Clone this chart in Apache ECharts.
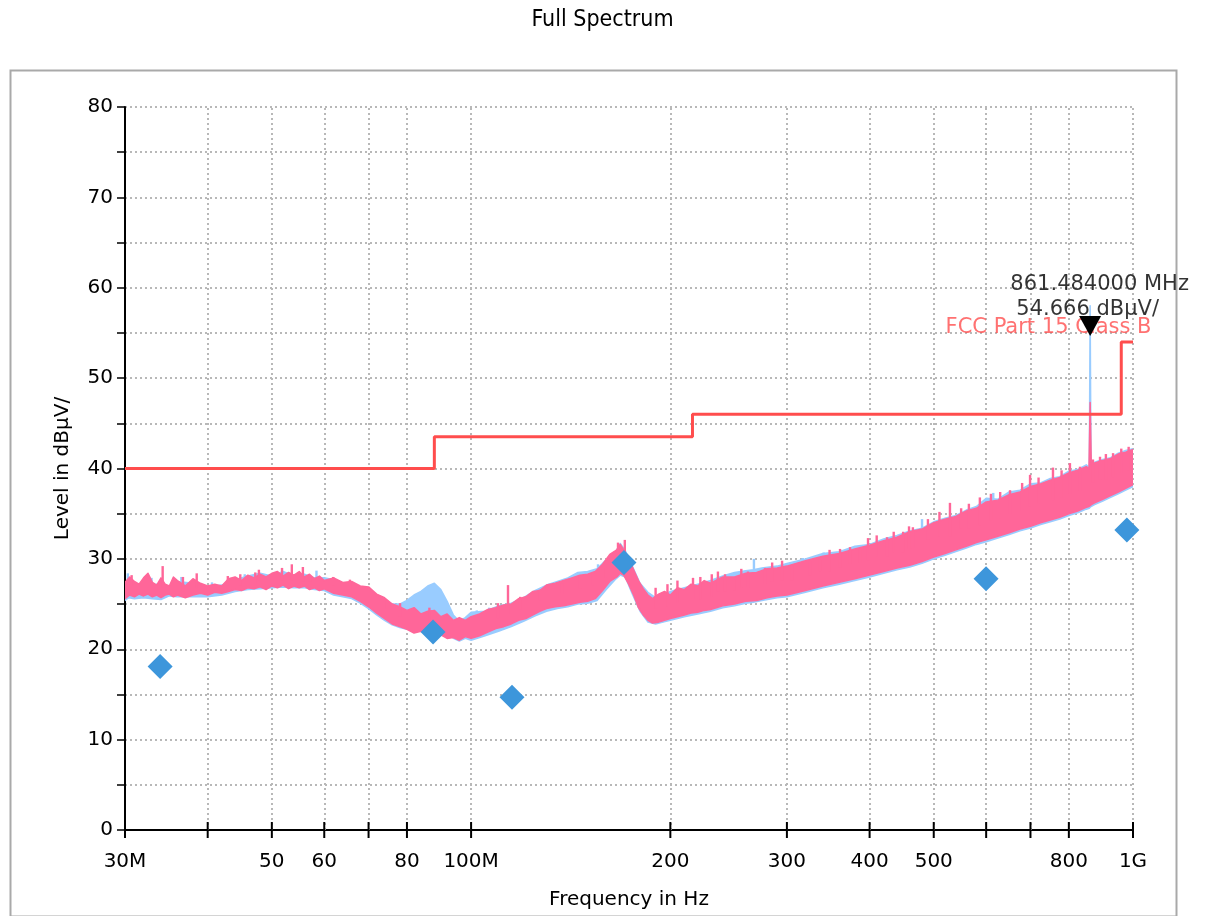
<!DOCTYPE html>
<html><head><meta charset="utf-8">
<script src="https://cdn.jsdelivr.net/npm/echarts@6/dist/echarts.min.js"></script>
<style>html,body{margin:0;padding:0;background:#fff}#c{width:1205px;height:916px}</style>
</head><body><div id="c"></div>
<script>
// ---- axis ticks (MHz) ----
const X_TICKS = [30,40,50,60,70,80,100,200,300,400,500,600,700,800,1000];
const X_TICK_LABELS = ['30M','','50','60','','80','100M','200','300','400','500','','','800','1G'];

// ---- limit line: FCC Part 15 Class B ----
const LIMIT_FREQ  = [30, 88, 88, 216, 216, 960, 960, 1000];
const LIMIT_LEVEL = [40, 40, 43.5, 43.5, 46, 46, 54, 54];

// ---- quasi-peak final measurements ----
const QP_FREQ  = [33.9, 87.6, 115.3, 170.2, 599.8, 979];
const QP_LEVEL = [18.1, 21.9, 14.7, 29.6, 27.8, 33.2];

// ---- peak marker ----
const PEAK_FREQ = 861.484;
const PEAK_LEVEL = 54.666;

// ---- pink trace envelope (dBuV) ----
const PINK_FREQ = [30,30.5,31,31.5,32,32.5,33,33.5,34,34.5,35,35.5,36,37,38,39,40,41,42,43,44,45,46,47,48,49,50,51,52,53,54,55,56,57,58,59,60,62,64,66,68,70,72,74,76,78,80,82,84,86,88,90,92,94,96,98,100,103,106,109,112,115,118,121,124,127,130,134,138,142,146,150,154,158,162,166,168,170,173,176,179,182,185,188,192,196,200,205,210,215,220,225,230,240,250,260,270,280,290,300,320,340,360,380,400,420,440,460,480,500,520,540,560,580,600,625,650,675,700,725,750,775,800,825,850,858,861.5,865,875,900,925,950,975,1000];
const PINK_LO = [25.6,26.0,25.8,26.1,25.9,26.1,25.8,26.0,25.7,26.0,26.1,25.8,26.0,25.7,26.0,26.2,26.0,26.3,26.2,26.4,26.6,26.5,26.8,26.7,26.9,26.6,27.0,26.8,27.1,26.7,27.0,26.8,27.0,26.6,26.8,26.5,26.7,26.2,26.0,25.8,25.3,24.7,24.0,23.4,22.8,22.5,22.2,21.8,22.0,21.6,21.4,21.6,21.2,21.3,21.0,21.4,21.2,21.5,21.9,22.3,22.5,22.8,23.2,23.4,23.8,24.2,24.5,24.7,24.8,25.0,25.2,25.3,25.6,26.5,27.5,28.0,28.4,28.2,27.2,26.0,24.6,23.8,23.2,22.9,23.0,23.2,23.4,23.6,23.8,24.0,24.1,24.3,24.4,24.8,25.0,25.3,25.4,25.7,25.9,26.0,26.5,27.0,27.4,27.8,28.2,28.6,29.0,29.3,29.7,30.2,30.6,31.0,31.4,31.8,32.1,32.5,32.9,33.3,33.6,34.0,34.3,34.6,35.0,35.3,35.7,35.8,35.9,36.0,36.2,36.6,37.0,37.4,37.8,38.2];
const PINK_HI = [27.4,28.0,27.5,27.2,27.9,28.4,27.4,27.1,27.9,27.2,27.0,28.0,27.6,27.0,27.8,27.3,27.0,27.2,27.0,27.8,28.0,27.6,28.2,27.9,28.3,28.0,28.4,28.6,28.1,28.5,28.2,28.6,28.0,28.3,27.8,28.1,27.6,27.9,27.4,27.5,27.0,26.9,26.1,25.7,25.0,24.7,24.3,24.6,23.9,24.2,24.3,23.6,23.9,23.2,23.5,23.2,23.6,23.9,24.4,24.6,24.9,25.0,25.6,25.8,26.4,26.5,27.1,27.3,27.6,27.9,28.2,28.3,28.6,29.4,30.5,31.0,31.6,31.0,30.0,28.8,27.6,26.7,26.0,25.6,26.1,26.4,26.0,26.8,26.6,27.2,27.0,27.6,27.3,28.0,28.0,28.4,28.5,28.9,29.0,29.2,29.8,30.3,30.6,31.1,31.5,32.0,32.4,33.0,33.3,34.0,34.4,34.7,35.3,35.6,36.3,36.5,37.1,37.4,38.0,38.3,38.7,39.0,39.5,39.8,40.2,40.0,47.3,40.3,40.6,40.9,41.1,41.6,41.8,42.1];
// isolated spikes of the pink trace (MHz, dBuV)
const PINK_SPIKE_FREQ  = [30.7,34.2,36.7,38.5,42.9,44.8,47.2,47.8,51.8,53.6,55.7,57.1,61.9,65.6,74.6,78.1,86.5,109.8,113.7,118.6,127,137.2,146,152.9,159.7,166.7,170.7,190,198,205,216.4,222,231,236,241.9,250,256,262,278,285,295,305.4,325,336.6,348,360.9,373.7,387,397.8,410,425,435,449.5,458.8,465,490,510,529,550,565,587,610,630,652,680,699,720,757,780,803,831.6,870,891.6,910,933,960,985];
const PINK_SPIKE_LEVEL = [28.2,29.2,28.0,28.4,28.1,28.3,28.5,28.8,29.0,29.4,29.1,28.0,28.0,27.7,25.4,25.1,24.6,25.1,27.1,25.8,26.6,27.3,28.2,28.5,29.1,31.8,32.1,26.8,27.2,27.6,27.9,28.0,28.3,28.6,28.3,27.7,28.9,28.6,29.0,29.6,29.8,29.3,29.7,29.9,31.0,31.1,31.3,31.1,32.3,32.6,32.4,33.0,33.0,33.6,33.5,34.4,35.2,36.2,35.6,36.1,36.8,37.2,37.4,37.6,38.4,39.3,39.0,40.1,39.8,40.6,40.2,41.0,41.3,41.6,41.7,42.2,42.4];

// ---- light-blue trace envelope (dBuV) ----
const BLUE_FREQ = [30,30.4,31,32,33,34,35,36,38,40,42,44,46,48,50,52,54,56,58,60,62,64,66,68,70,72,74,76,78,80,82,84,86,88,90,92,94,96,98,100,105,110,115,120,125,130,135,140,145,150,155,160,165,168,171,175,180,185,190,195,200,210,220,230,240,250,260,267,275,290,300,320,340,360,380,400,420,440,460,480,500,520,540,560,580,600,625,650,675,700,725,750,775,800,825,850,859,861.484,864,875,900,925,950,975,1000];
const BLUE_LO = [25.4,25.7,25.6,25.7,25.6,25.5,25.9,25.8,25.8,25.8,26.0,26.4,26.6,26.7,26.8,26.9,26.8,26.8,26.6,26.5,26.0,25.8,25.6,25.1,24.5,23.8,23.2,22.7,22.4,22.2,22.8,23.2,23.4,23.6,23.2,22.4,21.2,20.9,21.2,21.0,21.5,22.0,22.5,23.1,23.7,24.2,24.5,24.7,25.0,25.1,25.4,26.6,27.7,28.2,28.0,26.2,24.2,23.0,22.8,23.0,23.2,23.6,23.9,24.2,24.6,24.8,25.1,25.2,25.4,25.7,25.8,26.3,26.8,27.2,27.6,28.0,28.4,28.8,29.1,29.5,30.0,30.4,30.8,31.2,31.6,31.9,32.3,32.7,33.1,33.4,33.8,34.1,34.4,34.8,35.1,35.5,35.6,35.7,35.8,36.0,36.4,36.8,37.2,37.6,38.0];
const BLUE_HI = [26.8,27.2,27.0,27.3,27.0,27.4,26.9,27.5,27.3,26.9,27.1,27.7,28.1,28.4,28.1,28.6,28.1,28.3,27.9,27.9,27.7,27.3,27.3,26.9,26.6,25.9,25.5,25.0,25.0,25.4,26.0,26.4,27.0,27.3,26.6,25.3,23.8,23.1,23.5,24.1,24.2,24.8,25.1,25.7,26.5,27.1,27.5,27.9,28.5,28.6,28.9,29.9,30.7,31.7,30.9,29.3,27.3,26.3,25.7,25.9,26.4,26.8,27.2,27.6,28.1,28.5,28.7,28.8,29.0,29.2,29.5,30.0,30.6,30.8,31.4,31.6,32.2,32.6,33.1,33.4,34.1,34.5,34.8,35.4,35.8,36.7,36.6,37.4,37.6,38.3,38.4,38.9,39.1,39.7,39.9,40.4,40.1,58.0,40.3,40.7,41.0,41.2,41.7,42.0,42.2];
// isolated spikes of the light-blue trace (MHz, dBuV)
const BLUE_SPIKE_FREQ  = [30.3,32.9,36.5,40.6,45.5,58.4,102,106.5,155.5,267.5,290,317,341,480,615];
const BLUE_SPIKE_LEVEL = [28.4,27.9,28.0,27.4,28.3,28.7,24.3,24.6,29.4,30.0,29.1,30.1,30.7,34.4,37.3];

const FONT = "'DejaVu Sans', 'Liberation Sans', sans-serif";
const FS = 20;
const chart = echarts.init(document.getElementById('c'), null, {renderer: 'canvas'});

function band(name, freq, lo, hi, color, z) {
  return {
    type: 'custom', name: name, z: z, silent: true, clip: true,
    data: freq.map((f, i) => [f, lo[i], hi[i]]),
    encode: {x: 0, y: [1, 2]},
    renderItem: function (params, api) {
      if (params.dataIndex !== 0) return {type: 'group', children: []};
      const pts = [];
      for (let i = 0; i < freq.length; i++) pts.push(api.coord([freq[i], hi[i]]));
      for (let i = freq.length - 1; i >= 0; i--) pts.push(api.coord([freq[i], lo[i]]));
      return {type: 'polygon', shape: {points: pts},
        style: {fill: color, stroke: color, lineWidth: 1.5, lineJoin: 'round'}};
    }
  };
}
// a spike is drawn from its top down into the middle of the nearest band sample
function spikes(name, freq, level, bandF, bandLo, bandHi, color, z) {
  return {
    type: 'custom', name: name, z: z, silent: true, clip: true,
    data: freq.map((f, i) => [f, level[i]]),
    encode: {x: 0, y: 1},
    renderItem: function (params, api) {
      const f = api.value(0), v = api.value(1);
      let j = 0, best = Infinity;
      for (let k = 0; k < bandF.length; k++) {
        const d = Math.abs(Math.log(bandF[k]) - Math.log(f));
        if (d < best) { best = d; j = k; }
      }
      const base = Math.min(v - 0.4, (bandLo[j] + bandHi[j]) / 2);
      const top = api.coord([f, v]);
      const bot = api.coord([f, base]);
      return {type: 'rect', shape: {x: top[0] - 1.2, y: top[1], width: 2.4, height: bot[1] - top[1]},
        style: {fill: color}};
    }
  };
}

const option = {
  animation: false,
  backgroundColor: '#fff',
  title: {
    text: 'Full Spectrum', left: 'center', top: 4,
    textStyle: {fontFamily: "'DejaVu Sans Condensed', 'Liberation Sans Narrow', sans-serif", fontSize: 23, fontWeight: 'normal', color: '#000'}
  },
  graphic: [{
    type: 'rect', left: 8, top: 68, z: -10, silent: true,
    shape: {width: 1166, height: 846},
    style: {fill: 'none', stroke: '#a9a9a9', lineWidth: 2}
  }],
  grid: {left: 125, right: 72, top: 107, bottom: 86, containLabel: false, outerBoundsMode: 'none'},
  xAxis: {
    type: 'log', logBase: 10, min: 30, max: 1000,
    name: 'Frequency in Hz', nameLocation: 'middle', nameGap: 60,
    nameTextStyle: {fontFamily: FONT, fontSize: FS, color: '#000'},
    axisLine: {show: true, onZero: false, lineStyle: {color: '#000', width: 2}},
    axisTick: {show: false}, axisLabel: {show: false},
    splitLine: {show: false}, minorTick: {show: false}, minorSplitLine: {show: false}
  },
  yAxis: {
    type: 'value', min: 0, max: 80, interval: 5,
    name: 'Level in dBµV/', nameLocation: 'middle', nameGap: 52, nameRotate: 90,
    nameTextStyle: {fontFamily: FONT, fontSize: FS, color: '#000'},
    axisLine: {show: true, lineStyle: {color: '#000', width: 2}},
    axisTick: {show: true, length: 8, lineStyle: {color: '#000', width: 1.5}},
    axisLabel: {
      margin: 12, fontFamily: FONT, fontSize: FS, color: '#000',
      formatter: v => (v % 10 === 0 ? String(v) : '')
    },
    splitLine: {show: true, lineStyle: {color: '#b8b8b8', type: [2, 3], width: 2}}
  },
  series: [
    {
      type: 'line', name: 'vgrid', data: [], z: 1, silent: true,
      markLine: {
        silent: true, symbol: 'none', z: 1, label: {show: false},
        lineStyle: {color: '#b8b8b8', type: [2, 3], width: 2},
        data: X_TICKS.slice(1).map(f => ({xAxis: f}))
      }
    },
    band('Peak', BLUE_FREQ, BLUE_LO, BLUE_HI, '#99ccff', 2),
    spikes('Peak spikes', BLUE_SPIKE_FREQ, BLUE_SPIKE_LEVEL, BLUE_FREQ, BLUE_LO, BLUE_HI, '#99ccff', 2),
    band('Average', PINK_FREQ, PINK_LO, PINK_HI, '#ff6699', 3),
    spikes('Average spikes', PINK_SPIKE_FREQ, PINK_SPIKE_LEVEL, PINK_FREQ, PINK_LO, PINK_HI, '#ff6699', 3),
    {
      type: 'line', name: 'FCC Part 15 Class B', z: 4, silent: true,
      data: LIMIT_FREQ.map((f, i) => [f, LIMIT_LEVEL[i]]),
      showSymbol: false, symbol: 'none',
      lineStyle: {color: '#ff4d4d', width: 3}
    },
    {
      type: 'scatter', name: 'limitLabel', z: 6, silent: true,
      data: [[LIMIT_FREQ[LIMIT_FREQ.length - 1], LIMIT_LEVEL[LIMIT_LEVEL.length - 1]]],
      symbolSize: 1, itemStyle: {color: 'transparent'},
      label: {show: true, formatter: 'FCC Part 15 Class B', position: [19, -14],
        align: 'right', verticalAlign: 'middle', fontFamily: FONT, fontSize: 21, color: '#ff4d4d'}
    },
    {
      type: 'scatter', name: 'xticks', z: 10, silent: true,
      data: X_TICKS.map(f => [f, 0]),
      symbol: 'rect', symbolSize: [2, 16], itemStyle: {color: '#000', opacity: 1},
      label: {show: true, position: 'bottom', distance: 14, fontFamily: FONT, fontSize: FS, color: '#000',
        formatter: p => X_TICK_LABELS[p.dataIndex]}
    },
    {
      type: 'scatter', name: 'QP', z: 11, silent: true,
      data: QP_FREQ.map((f, i) => [f, QP_LEVEL[i]]),
      symbol: 'diamond', symbolSize: 25, itemStyle: {color: '#3d96db', opacity: 1}
    },
    {
      type: 'scatter', name: 'peak', z: 12, silent: true,
      data: [[PEAK_FREQ, PEAK_LEVEL]],
      symbol: 'triangle', symbolRotate: 180, symbolSize: [22, 20], symbolOffset: [0, -10],
      itemStyle: {color: '#000', opacity: 1}
    },
    {
      type: 'scatter', name: 'peakLabel', z: 12, silent: true,
      symbolSize: 1, itemStyle: {color: 'transparent'},
      data: [
        {value: [PEAK_FREQ, PEAK_LEVEL], label: {formatter: PEAK_FREQ.toFixed(6) + ' MHz', position: [10, -51], color: '#000'}},
        {value: [PEAK_FREQ, PEAK_LEVEL], label: {formatter: PEAK_LEVEL.toFixed(3) + ' dBµV/', position: [-2, -26], color: '#000'}}
      ],
      label: {show: true, align: 'center', verticalAlign: 'middle', fontFamily: FONT, fontSize: 21, color: '#000'}
    }
  ]
};
chart.setOption(option);
</script>
</body></html>
